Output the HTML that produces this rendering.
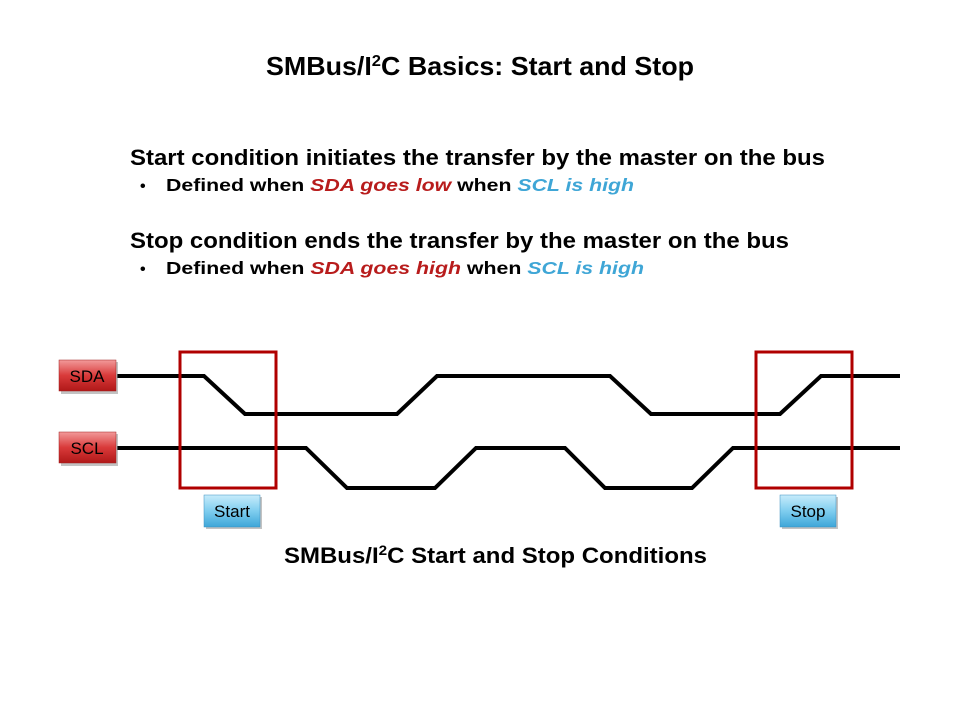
<!DOCTYPE html>
<html><head><meta charset="utf-8"><style>
html,body{margin:0;padding:0;background:#fff;}
svg{display:block;font-family:"Liberation Sans",Arial,sans-serif;font-weight:bold;}
</style></head><body>
<svg width="960" height="720" viewBox="0 0 960 720" xmlns="http://www.w3.org/2000/svg">
<defs>
<linearGradient id="rg" x1="0" y1="0" x2="0" y2="1"><stop offset="0" stop-color="#f29a9a"/><stop offset="0.5" stop-color="#d93a3a"/><stop offset="1" stop-color="#b01818"/></linearGradient>
<linearGradient id="bg" x1="0" y1="0" x2="0" y2="1"><stop offset="0" stop-color="#c8ecfb"/><stop offset="0.5" stop-color="#7fcdef"/><stop offset="1" stop-color="#3ea6d8"/></linearGradient>
</defs>
<text x="266" y="75" font-size="26" textLength="428" lengthAdjust="spacingAndGlyphs">SMBus/I<tspan font-size="16" dy="-9">2</tspan><tspan dy="9">C Basics: Start and Stop</tspan></text>

<text x="130" y="165" font-size="22" textLength="695" lengthAdjust="spacingAndGlyphs">Start condition initiates the transfer by the master on the bus</text>
<text x="140" y="191" font-size="16">•</text>
<text x="166" y="191" font-size="17.5" textLength="468" lengthAdjust="spacingAndGlyphs">Defined when <tspan fill="#b81c1c" font-style="italic">SDA goes low</tspan> when <tspan fill="#3fa6d6" font-style="italic">SCL is high</tspan></text>

<text x="130" y="248" font-size="22" textLength="659" lengthAdjust="spacingAndGlyphs">Stop condition ends the transfer by the master on the bus</text>
<text x="140" y="274" font-size="16">•</text>
<text x="166" y="274" font-size="17.5" textLength="478" lengthAdjust="spacingAndGlyphs">Defined when <tspan fill="#b81c1c" font-style="italic">SDA goes high</tspan> when <tspan fill="#3fa6d6" font-style="italic">SCL is high</tspan></text>

<g fill="none" stroke="#000" stroke-width="4">
<polyline points="117,376 204,376 245,414 397,414 437,376 610,376 651,414 780,414 821,376 900,376"/>
<polyline points="117,448 306,448 347,488 435,488 476,448 565,448 605,488 692,488 733,448 900,448"/>
</g>
<g fill="none" stroke="#b00000" stroke-width="3">
<rect x="180" y="352" width="96" height="136"/>
<rect x="756" y="352" width="96" height="136"/>
</g>
<g font-weight="normal" font-size="17" text-anchor="middle">
<rect x="61" y="362" width="57" height="32" fill="#888" opacity="0.5"/>
<rect x="59" y="360" width="57" height="31" fill="url(#rg)" stroke="#a02020" stroke-width="0.5"/>
<text x="87" y="382">SDA</text>
<rect x="61" y="434" width="57" height="32" fill="#888" opacity="0.5"/>
<rect x="59" y="432" width="57" height="31" fill="url(#rg)" stroke="#a02020" stroke-width="0.5"/>
<text x="87" y="454">SCL</text>
<rect x="206" y="497" width="56" height="32" fill="#888" opacity="0.5"/>
<rect x="204" y="495" width="56" height="32" fill="url(#bg)" stroke="#3a8fc0" stroke-width="0.5"/>
<text x="232" y="517">Start</text>
<rect x="782" y="497" width="56" height="32" fill="#888" opacity="0.5"/>
<rect x="780" y="495" width="56" height="32" fill="url(#bg)" stroke="#3a8fc0" stroke-width="0.5"/>
<text x="808" y="517">Stop</text>
</g>
<text x="284" y="563" font-size="22" textLength="423" lengthAdjust="spacingAndGlyphs">SMBus/I<tspan font-size="14" dy="-8">2</tspan><tspan dy="8">C Start and Stop Conditions</tspan></text>
</svg>
</body></html>
